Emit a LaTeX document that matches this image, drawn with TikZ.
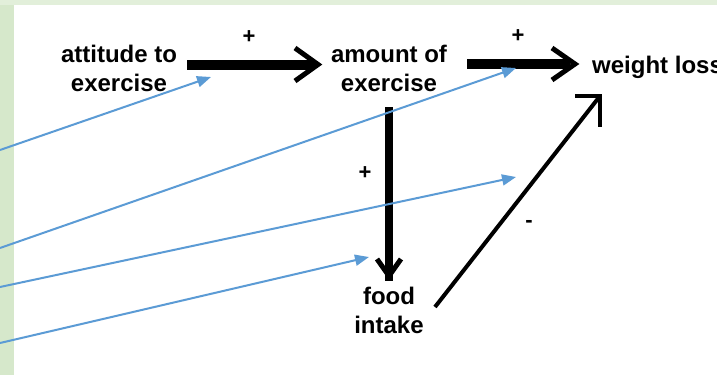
\documentclass[tikz,border=0pt]{standalone}
\usepackage{fontspec}
\setmainfont{Liberation Sans}
\usetikzlibrary{arrows.meta,calc}
\definecolor{bgA}{HTML}{E2EFDA}
\definecolor{bgB}{HTML}{D6E8CB}
\definecolor{callout}{HTML}{5B9BD5}
\begin{document}
\begin{tikzpicture}[x=1pt,y=-1pt,
  lbl/.style={font=\fontsize{24}{29}\selectfont\bfseries, align=center, inner sep=0pt},
  sgn/.style={font=\fontsize{22}{26}\selectfont\bfseries, inner sep=0pt},
  flow/.style={line width=10pt},
  vflow/.style={line width=8pt},
  barb/.style={line width=5pt, miter limit=10},
  thin/.style={line width=4pt},
  callarrow/.style={draw=callout, line width=2pt, -{Triangle[length=14pt,width=11pt,fill=callout]}}]
\useasboundingbox (0,0) rectangle (717,375);
\clip (0,0) rectangle (717,375);
\fill[bgA] (0,0) rectangle (717,375);
\fill[bgB] (0,5) rectangle (14,375);
\fill[white] (14,5) rectangle (717,375);

% concept labels (base = baseline of last line)
\node[lbl, anchor=base] (att) at (119,91) {attitude to\\exercise};
\node[lbl, anchor=base] (amt) at (389,91) {amount of\\exercise};
\node[lbl, anchor=base west] (wl) at (592,73) {weight loss};
\node[lbl, anchor=base] (food) at (389,333) {food\\intake};

% signs
\node[sgn] (p1) at (249,37) {+};
\node[sgn] (p2) at (518,36) {+};
\node[sgn] (p3) at (365,173) {+};
\node[sgn] (m1) at (529,224) {-};

% attitude -> amount
\coordinate (a1s) at (187,64.5);
\coordinate (a1e) at (314,64.5);
\coordinate (a1t) at (318,64.5);
\draw[flow] (a1s) -- (a1e);
\draw[barb] ($(a1t)+(-23,-16.5)$) -- (a1t) -- ($(a1t)+(-23,16.5)$);

% amount -> weight loss
\coordinate (a2s) at (467,64);
\coordinate (a2e) at (570,64);
\coordinate (a2t) at (575,64);
\draw[flow] (a2s) -- (a2e);
\draw[barb] ($(a2t)+(-23,-16)$) -- (a2t) -- ($(a2t)+(-23,16)$);

% amount -> food intake
\coordinate (a3s) at (389,107);
\coordinate (a3e) at (389,281);
\coordinate (a3t) at (389,276);
\draw[vflow] (a3s) -- (a3e);
\draw[barb] ($(a3t)+(-12,-17)$) -- (a3t) -- ($(a3t)+(12,-17)$);

% food intake -> weight loss
\coordinate (a4s) at (435,307);
\coordinate (a4t) at (600,96);
\draw[thin] (a4s) -- (a4t);
\draw[thin, line cap=butt] (575,96) -- (a4t) -- (600,127);

% callout arrows
\coordinate (c1) at (0,150);
\coordinate (c2) at (0,248);
\coordinate (c3) at (0,287);
\coordinate (c4) at (0,343);
\coordinate (t1) at (211,77);
\coordinate (t2) at (516,68);
\coordinate (t3) at (516,177);
\coordinate (t4) at (369,257);
\draw[callarrow] (c1) -- (t1);
\draw[callarrow] (c2) -- (t2);
\draw[callarrow] (c3) -- (t3);
\draw[callarrow] (c4) -- (t4);
\end{tikzpicture}
\end{document}
